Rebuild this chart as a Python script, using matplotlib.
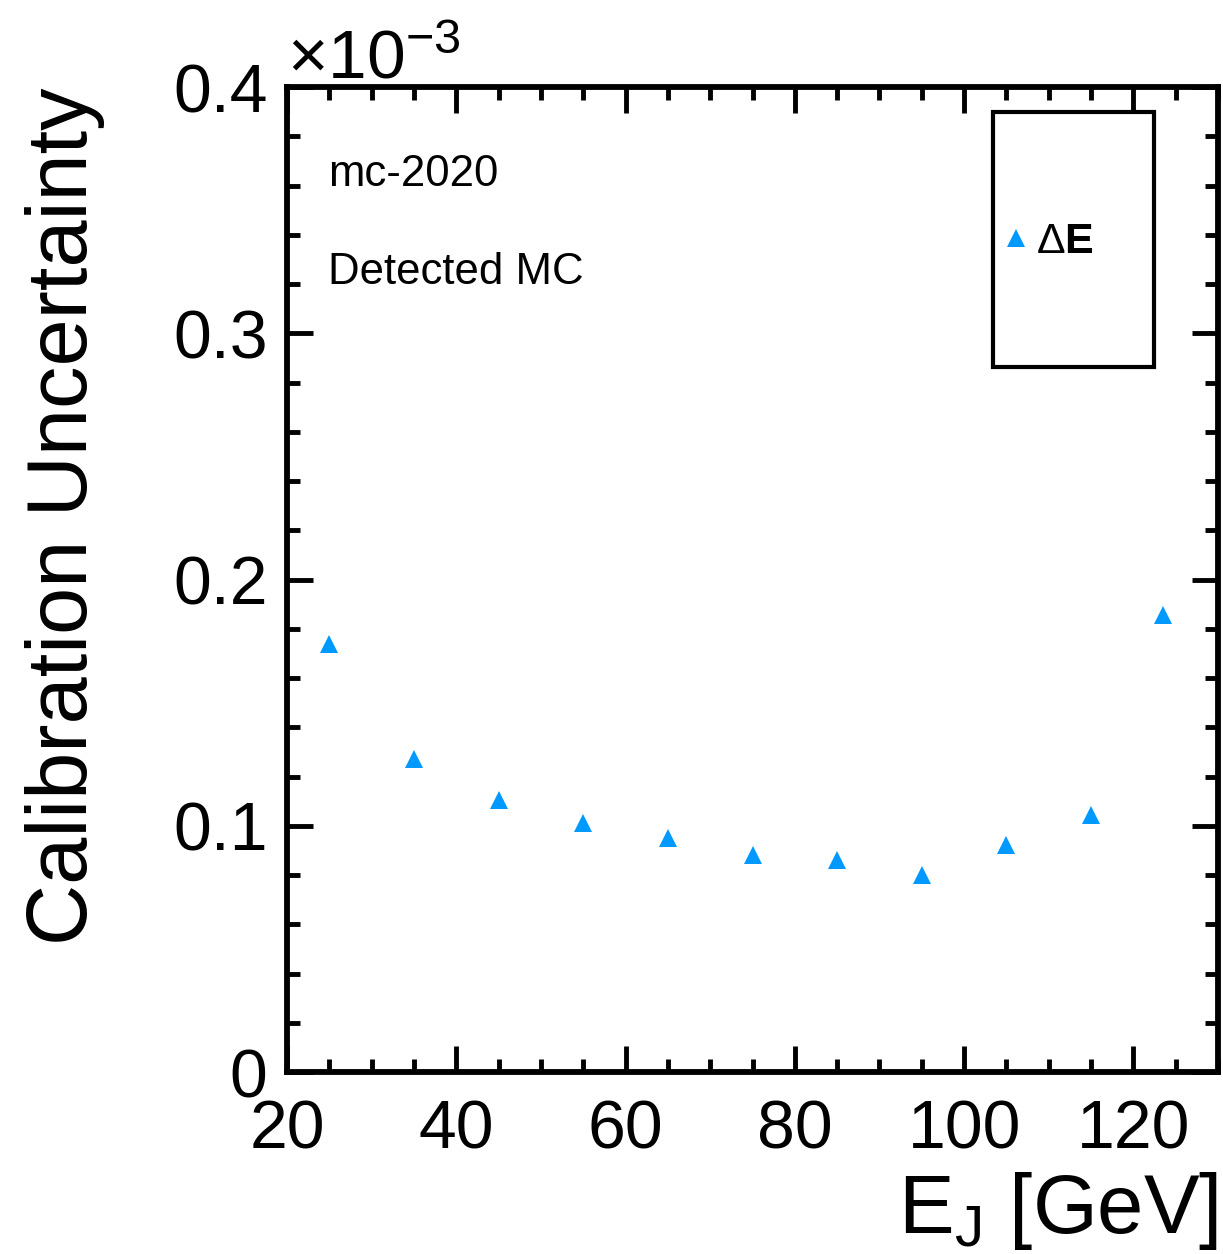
import matplotlib
matplotlib.use('Agg')
from matplotlib import pyplot as plt
from matplotlib.ticker import MultipleLocator
from matplotlib.patches import Rectangle

plt.rcParams['font.family'] = ['Liberation Sans', 'DejaVu Sans']
plt.rcParams['mathtext.fontset'] = 'custom'
plt.rcParams['mathtext.rm'] = 'Liberation Sans'
plt.rcParams['mathtext.it'] = 'Liberation Sans:italic'
plt.rcParams['mathtext.bf'] = 'Liberation Sans:bold'

# jet energy bins [GeV] and calibration uncertainty (absolute)
energy = [25, 35, 45, 55, 65, 75, 85, 95, 105, 115, 123.5]
uncertainty = [0.174e-3, 0.127e-3, 0.1105e-3, 0.101e-3, 0.095e-3, 0.0883e-3,
               0.086e-3, 0.0801e-3, 0.0921e-3, 0.1045e-3, 0.1854e-3]
scale = 1e3  # axis drawn in units of 10^-3

y_ticks = [0, 0.1, 0.2, 0.3, 0.4]
y_tick_labels = ['0', '0.1', '0.2', '0.3', '0.4']
x_ticks = [20, 40, 60, 80, 100, 120]

color = '#0099ff'

fig = plt.figure(figsize=(12.23, 12.54), dpi=100)
ax = fig.add_axes([0.2347, 0.1451, 0.7612, 0.7855])

ax.plot(energy, [u * scale for u in uncertainty], linestyle='none',
        marker='^', markersize=13, color=color, markeredgewidth=0, label='$\\Delta$E')

ax.set_xlim(20, 130)
ax.set_ylim(0, 0.4)
ax.set_xticks(x_ticks)
ax.set_yticks(y_ticks, y_tick_labels)
ax.xaxis.set_minor_locator(MultipleLocator(5))
ax.yaxis.set_minor_locator(MultipleLocator(0.02))

for s in ax.spines.values():
    s.set_linewidth(4.2)
ax.tick_params(which='both', direction='in', top=True, right=True, width=3.5)
ax.tick_params(which='major', length=19, labelsize=49)
ax.tick_params(which='minor', length=9.5)
ax.tick_params(axis='x', which='major', pad=19)
ax.tick_params(axis='y', which='major', pad=14)

ax.set_ylabel('Calibration Uncertainty', fontsize=61, loc='top')
ax.yaxis.set_label_coords(-0.196, 1.0)
ax.set_xlabel(r'E$_{\mathrm{J}}$ [GeV]', fontsize=60, loc='right', va='baseline')
ax.xaxis.set_label_coords(1.0, -0.1635)

ax.text(0.0, 1.009, r'$\times10^{-3}$', transform=ax.transAxes, fontsize=50,
        ha='left', va='baseline')

ax.text(0.044, 0.911, 'mc-2020', transform=ax.transAxes, fontsize=31.5, va='center')
ax.text(0.044, 0.812, 'Detected MC', transform=ax.transAxes, fontsize=31.5, va='center')

# legend box
ax.add_patch(Rectangle((0.7583, 0.7157), 0.1729, 0.2589, transform=ax.transAxes,
                       fill=False, edgecolor='black', linewidth=3, zorder=5))
leg = ax.legend(loc='center', bbox_to_anchor=(0.818, 0.8426), frameon=False,
                prop={'size': 31, 'weight': 'bold'}, handlelength=0.6,
                handletextpad=0.15, numpoints=1, borderaxespad=0, borderpad=0)

plt.savefig('out.png', dpi=100)
plt.close()
